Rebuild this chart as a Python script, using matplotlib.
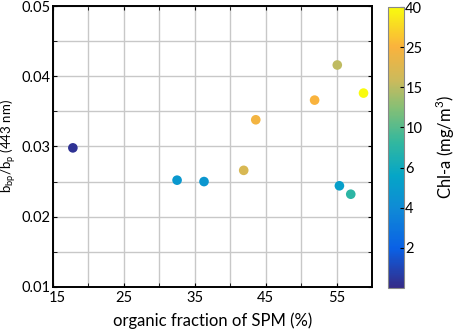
import numpy as np
import matplotlib
matplotlib.use("Agg")
import matplotlib.pyplot as plt
import matplotlib.transforms as mtransforms
from matplotlib.colors import LinearSegmentedColormap, Normalize
from matplotlib.cm import ScalarMappable

plt.rcParams['font.family'] = ['Lato', 'DejaVu Sans']

# organic fraction of SPM (%), bbp/bp ratio and Chl-a (mg/m3)
organic = [17.8, 32.5, 36.3, 41.9, 43.6, 51.9, 55.1, 58.8, 55.4, 57.0]
ratio = [0.0298, 0.0252, 0.0250, 0.0266, 0.0338, 0.0366, 0.0416, 0.0376, 0.0244, 0.0232]
chl = [0.3, 4.8, 4.7, 19.0, 24.0, 25.0, 15.5, 40.0, 5.2, 8.0]

cbar_ticks = [2, 4, 6, 10, 15, 25, 40]
cbar_levels = [0, 2, 4, 6, 10, 15, 25, 40]

# parula-like colour map
parula = LinearSegmentedColormap.from_list("parula", [
    (0.00, (0.208, 0.166, 0.529)),
    (0.14, (0.040, 0.380, 0.900)),
    (0.28, (0.060, 0.540, 0.840)),
    (0.40, (0.020, 0.650, 0.780)),
    (0.52, (0.200, 0.720, 0.620)),
    (0.64, (0.520, 0.750, 0.460)),
    (0.74, (0.800, 0.730, 0.360)),
    (0.86, (0.980, 0.700, 0.240)),
    (1.00, (0.976, 0.984, 0.055)),
])

# colour bar uses equally spaced tick labels
idx = np.interp(chl, cbar_levels, np.arange(len(cbar_levels)))
norm = Normalize(0, len(cbar_levels) - 1)

fig = plt.figure(figsize=(4.59, 3.34), dpi=100)
ax = fig.add_axes([0.1155, 0.141, 0.695, 0.841])
ax.scatter(organic, ratio, c=idx, cmap=parula, norm=norm, s=48, zorder=3, linewidths=0)

ax.set_xlim(15, 60)
ax.set_ylim(0.01, 0.05)
ax.set_xticks([15, 25, 35, 45, 55])
ax.set_xticks([20, 30, 40, 50], minor=True)
ax.set_yticks([0.01, 0.02, 0.03, 0.04, 0.05])
ax.set_yticklabels(["0.01", "0.02", "0.03", "0.04", "0.05"])
ax.set_yticks([0.015, 0.025, 0.035, 0.045], minor=True)
ax.grid(True, which="both", color="#c8c8c8", linewidth=1)
ax.set_axisbelow(True)
ax.tick_params(which="both", direction="in", top=True, right=True, length=3, labelsize=10.5)
ax.tick_params(axis="x", pad=3)
ax.tick_params(axis="y", pad=2)
for s in ax.spines.values():
    s.set_linewidth(1.4)

# nudge the first x label right so it clears "0.01"
first = ax.get_xticklabels()[0]
first.set_transform(first.get_transform() +
                    mtransforms.ScaledTranslation(4 / 100, 0, fig.dpi_scale_trans))

ax.set_xlabel("organic fraction of SPM (%)", fontsize=12, labelpad=5)
ax.set_ylabel(r"b$_{\mathregular{bp}}$/b$_{\mathregular{p}}$ (443 nm)", fontsize=9.5, labelpad=2)

cax = fig.add_axes([0.845, 0.138, 0.035, 0.841])
sm = ScalarMappable(norm=norm, cmap=parula)
cb = fig.colorbar(sm, cax=cax)
cb.set_ticks(np.arange(1, len(cbar_levels)))
cb.set_ticklabels([str(t) for t in cbar_ticks])
cb.ax.tick_params(labelsize=10.5, length=3, direction="in", pad=1)
cb.outline.set_edgecolor("#888888")
cb.set_label(r"Chl-a (mg/m$^{\mathregular{3}}$)", fontsize=12, labelpad=8)

fig.savefig("out.png", dpi=100)
